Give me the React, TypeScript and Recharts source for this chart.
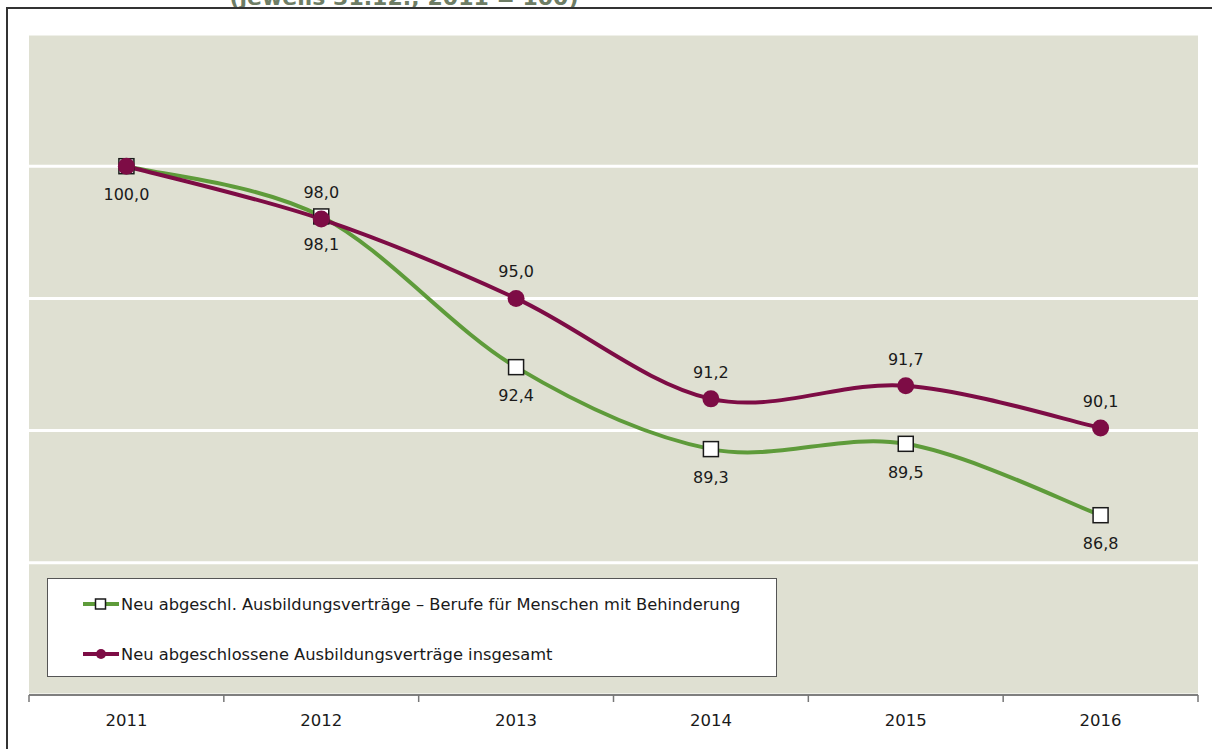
import React from 'react';
import { LineChart, Line, XAxis, YAxis, CartesianGrid, Legend } from 'recharts';

const years = ['2011', '2012', '2013', '2014', '2015', '2016'];
const behinderung = [100.0, 98.1, 92.4, 89.3, 89.5, 86.8];
const insgesamt = [100.0, 98.0, 95.0, 91.2, 91.7, 90.1];
const seriesNames = [
  'Neu abgeschl. Ausbildungsverträge – Berufe für Menschen mit Behinderung',
  'Neu abgeschlossene Ausbildungsverträge insgesamt',
];
const yTicks = [85, 90, 95, 100];
const yDomain: [number, number] = [80, 105];
const title = '(jeweils 31.12.; 2011 = 100)';

const GREEN = '#5E9B3A';
const PURPLE = '#7D0C45';
const FONT = '"DejaVu Sans", Verdana, sans-serif';
const TICK_SIZE = 10;
const TICK_MARGIN = 9;

const data = years.map((year, i) => ({
  year,
  behinderung: behinderung[i],
  insgesamt: insgesamt[i],
}));

const fmt = (v: number) => v.toFixed(1).replace('.', ',');

// Excel-like smoothed line (Catmull-Rom through the points)
const excelSmooth = (context: any) => {
  let pts: number[][] = [];
  return {
    areaStart() {},
    areaEnd() {},
    lineStart() {
      pts = [];
    },
    point(x: number, y: number) {
      pts.push([+x, +y]);
    },
    lineEnd() {
      const n = pts.length;
      if (!n) return;
      context.moveTo(pts[0][0], pts[0][1]);
      for (let i = 0; i < n - 1; i++) {
        const p0 = pts[Math.max(i - 1, 0)];
        const p1 = pts[i];
        const p2 = pts[i + 1];
        const p3 = pts[Math.min(i + 2, n - 1)];
        context.bezierCurveTo(
          p1[0] + (p2[0] - p0[0]) / 6,
          p1[1] + (p2[1] - p0[1]) / 6,
          p2[0] - (p3[0] - p1[0]) / 6,
          p2[1] - (p3[1] - p1[1]) / 6,
          p2[0],
          p2[1]
        );
      }
    },
  };
};

// year label plus tick marks on the band edges (Excel style)
const YearTick = (props: any) => {
  const { x, y, payload, index, visibleTicksCount, width } = props;
  const half = payload?.offset || width / visibleTicksCount / 2;
  const axisY = y - TICK_SIZE - TICK_MARGIN;
  return (
    <g>
      <line x1={x - half} x2={x - half} y1={axisY} y2={axisY + 7} stroke="#777" strokeWidth={1.5} />
      {index === visibleTicksCount - 1 && (
        <line x1={x + half} x2={x + half} y1={axisY} y2={axisY + 7} stroke="#777" strokeWidth={1.5} />
      )}
      <text x={x} y={y} dy="0.71em" textAnchor="middle" fontSize={16.5} fill="#1a1a1a">
        {payload.value}
      </text>
    </g>
  );
};

const SquareDot = (props: any) => {
  const { cx, cy, index } = props;
  return <rect key={`sq-${index}`} x={cx - 7.5} y={cy - 7.5} width={15} height={15} fill="#fff" stroke="#1a1a1a" strokeWidth={1.5} />;
};

const CircleDot = (props: any) => {
  const { cx, cy, index } = props;
  return <circle key={`ci-${index}`} cx={cx} cy={cy} r={8.5} fill={PURPLE} />;
};

const labelBelow = (props: any) => {
  const { x, y, value, index } = props;
  return (
    <text key={`lb-${index}`} x={x} y={y + 34} textAnchor="middle" fontSize={16} fill="#1a1a1a">
      {fmt(value)}
    </text>
  );
};

const labelAbove = (props: any) => {
  const { x, y, value, index } = props;
  if (index === 0) return null;
  return (
    <text key={`la-${index}`} x={x} y={y - 21} textAnchor="middle" fontSize={16} fill="#1a1a1a">
      {fmt(value)}
    </text>
  );
};

const renderLegend = () => (
  <div
    style={{
      position: 'relative',
      boxSizing: 'border-box',
      width: 730,
      height: 99,
      background: '#fff',
      border: '1.5px solid #555',
      fontFamily: FONT,
      fontSize: 16,
      color: '#1a1a1a',
    }}
  >
    {seriesNames.map((name, i) => (
      <div key={name} style={{ position: 'absolute', left: 34, top: 13 + i * 50, height: 24, display: 'flex', alignItems: 'center' }}>
        <svg width={38} height={24}>
          <line x1={1} y1={12} x2={37} y2={12} stroke={i === 0 ? GREEN : PURPLE} strokeWidth={4} />
          {i === 0 ? (
            <rect x={13.5} y={7} width={10} height={10} fill="#fff" stroke="#1a1a1a" strokeWidth={1.5} />
          ) : (
            <circle cx={19} cy={12} r={5} fill={PURPLE} />
          )}
        </svg>
        <span style={{ marginLeft: 1, whiteSpace: 'nowrap', fontSize: 16.3 }}>{name}</span>
      </div>
    ))}
  </div>
);

export default function App() {
  return (
    <div style={{ position: 'absolute', left: 0, top: 0, width: 1212, height: 749, fontFamily: FONT, background: '#fff', overflow: 'hidden' }}>
      <LineChart width={1212} height={749} data={data} margin={{ top: 34, right: 14, left: 29, bottom: 52 }}>
        <CartesianGrid fill="#DFE0D2" vertical={false} stroke="#fff" strokeWidth={3} />
        <YAxis hide width={0} domain={yDomain} ticks={yTicks} allowDataOverflow />
        <XAxis
          dataKey="year"
          scale="band"
          interval={0}
          height={2}
          axisLine={{ stroke: '#555', strokeWidth: 1.5 }}
          tickLine={false}
          tickSize={TICK_SIZE}
          tickMargin={TICK_MARGIN}
          tick={<YearTick />}
        />
        <Legend
          verticalAlign="middle"
          align="center"
          layout="horizontal"
          wrapperStyle={{ left: 47, top: 578, width: 730, height: 99 }}
          content={renderLegend}
        />
        <Line
          dataKey="behinderung"
          name={seriesNames[0]}
          type={excelSmooth as any}
          stroke={GREEN}
          strokeWidth={4}
          dot={SquareDot}
          activeDot={false}
          label={labelBelow}
          isAnimationActive={false}
        />
        <Line
          dataKey="insgesamt"
          name={seriesNames[1]}
          type={excelSmooth as any}
          stroke={PURPLE}
          strokeWidth={4}
          dot={CircleDot}
          activeDot={false}
          label={labelAbove}
          isAnimationActive={false}
        />
      </LineChart>
      <svg width={1212} height={20} style={{ position: 'absolute', left: 0, top: 0 }}>
        <text x={404} y={5} textAnchor="middle" fontSize={22} fontWeight="bold" fill="#6E7D65">
          {title}
        </text>
      </svg>
      <div
        style={{
          position: 'absolute',
          left: 6,
          top: 7,
          width: 1300,
          height: 800,
          borderTop: '2px solid #333',
          borderLeft: '2px solid #333',
        }}
      />
    </div>
  );
}
